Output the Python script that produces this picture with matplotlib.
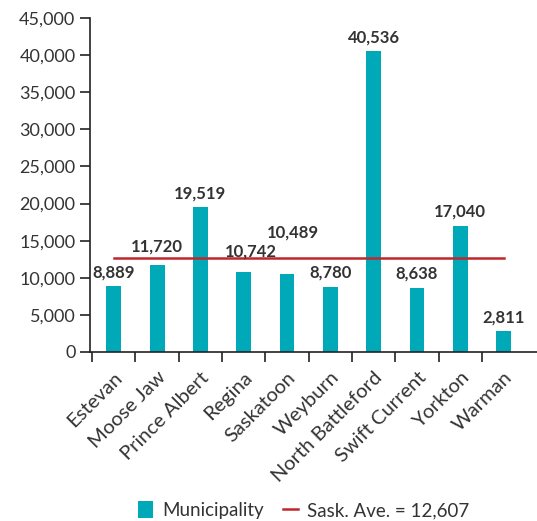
import matplotlib
matplotlib.use('Agg')
import matplotlib.pyplot as plt
from matplotlib.ticker import FuncFormatter

cities = ['Estevan', 'Moose Jaw', 'Prince Albert', 'Regina', 'Saskatoon',
          'Weyburn', 'North Battleford', 'Swift Current', 'Yorkton', 'Warman']
values = [8889, 11720, 19519, 10742, 10489, 8780, 40536, 8638, 17040, 2811]
sask_avg = 12607

# label offsets in points (dx, dy), the source nudges a few around the red line
label_offsets = [(0, 10), (0, 13), (0, 10), (5, 15), (4, 30),
                 (0, 10), (0, 10), (0, 10), (0, 10), (0, 10)]

plt.rcParams['font.family'] = ['Lato', 'DejaVu Sans']
bar_color = '#00A9B7'
line_color = '#C0272D'
text_color = '#333333'

fig = plt.figure(figsize=(5.37, 5.21), dpi=100)
ax = fig.add_axes([90 / 537, (521 - 352) / 521, 1 - 90 / 537, (352 - 18) / 521])

x = list(range(len(cities)))
bars = ax.bar(x, values, width=0.34, color=bar_color, label='Municipality', zorder=2)
line, = ax.plot([0, 9], [sask_avg, sask_avg], color=line_color, lw=1.8,
                label=f'Sask. Ave. = {sask_avg:,}', zorder=3)

for xi, v, (dx, dy) in zip(x, values, label_offsets):
    ax.annotate(f'{v:,}', (xi, v), xytext=(dx, dy), textcoords='offset points',
                ha='center', va='center', fontsize=12, fontweight='bold',
                color=text_color)

ax.set_ylim(0, 45000)
ax.set_xlim(-0.55, 9.77)
ax.set_yticks(range(0, 45001, 5000))
ax.yaxis.set_major_formatter(FuncFormatter(lambda v, p: f'{int(v):,}'))
ax.set_xticks([i - 0.5 for i in range(len(cities))])
ax.set_xticklabels([])
ax.set_xticks(x, minor=True)
ax.set_xticklabels(cities, minor=True, rotation=45, ha='right',
                   rotation_mode='anchor', fontsize=14.5, color=text_color)
ax.tick_params(axis='x', which='minor', length=0, pad=12)
ax.tick_params(axis='x', which='major', length=7, width=1.2, color='#222222')
ax.tick_params(axis='y', length=7, width=1.2, color='#222222',
               labelsize=13, labelcolor=text_color)

for s in ['top', 'right']:
    ax.spines[s].set_visible(False)
for s in ['left', 'bottom']:
    ax.spines[s].set_linewidth(1.2)
    ax.spines[s].set_color('#222222')

fig.legend([bars, line], ['Municipality', f'Sask. Ave. = {sask_avg:,}'],
           loc='center', bbox_to_anchor=(304 / 537, 1 - 510 / 521), ncol=2,
           frameon=False, fontsize=13.5, handlelength=0.8, handleheight=1.0,
           columnspacing=1.0, handletextpad=0.5, labelcolor=text_color)

fig.savefig('out.png', dpi=100)
